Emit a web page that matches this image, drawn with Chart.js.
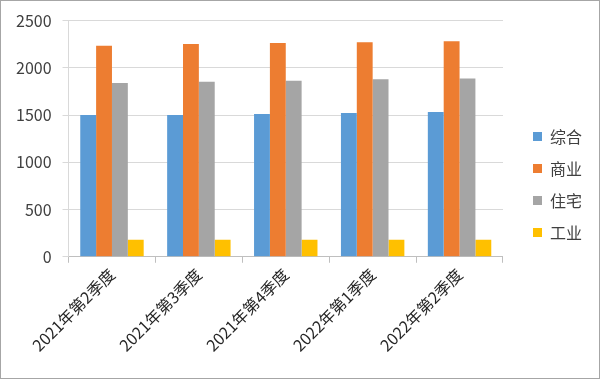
<!DOCTYPE html>
<html><head><meta charset="utf-8">
<script src="https://cdn.jsdelivr.net/npm/chart.js@4"></script>
<style>html,body{margin:0;padding:0;background:#fff}#wrap{width:600px;height:379px;position:relative}</style>
</head><body><div id="wrap"><canvas id="c" width="600" height="379"></canvas></div>
<script>
const categories = ["2021年第2季度","2021年第3季度","2021年第4季度","2022年第1季度","2022年第2季度"];
const seriesNames = ["综合","商业","住宅","工业"];
const zonghe = [1500, 1502, 1511, 1522, 1532];
const shangye = [2235, 2253, 2264, 2270, 2281];
const zhuzhai = [1840, 1854, 1864, 1878, 1888];
const gongye = [180, 180, 180, 180, 180];
const yTicks = [0, 500, 1000, 1500, 2000, 2500];
const colors = ["#5B9BD5","#ED7D31","#A5A5A5","#FFC000"];

const FONT = "'Noto Sans CJK SC', 'Noto Sans', sans-serif";
const border = {
  id:'border',
  afterDraw(chart){
    const ctx = chart.ctx;
    ctx.save();
    ctx.strokeStyle = '#a6a6a6';
    ctx.lineWidth = 1;
    ctx.strokeRect(0.5,0.5,chart.width-1,chart.height-1);
    ctx.restore();
  }
};
const spacer = {
  id:'spacer',
  beforeInit(chart){
    const box = {
      position:'right', weight:500, fullSize:false, options:{},
      width:0,height:0,left:0,top:0,right:0,bottom:0,
      update(maxWidth,maxHeight){ this.width=14; this.height=maxHeight; },
      isHorizontal(){ return false; },
      getPadding(){ return {left:0,right:0,top:0,bottom:0}; },
      draw(){}
    };
    Chart.layouts.addBox(chart, box);
  }
};

new Chart(document.getElementById('c'), {
  type:'bar',
  data:{
    labels: categories,
    datasets: [zonghe, shangye, zhuzhai, gongye].map((d,i)=>({
      label: seriesNames[i], data: d, backgroundColor: colors[i], borderWidth:0,
      categoryPercentage:0.73, barPercentage:1
    }))
  },
  options:{
    responsive:false, animation:false,
    devicePixelRatio:1,
    layout:{padding:{left:5, right:8, top:12, bottom:22}},
    plugins:{
      legend:{
        position:'right',
        labels:{boxWidth:9, boxHeight:9, padding:16, color:'#404040', font:{family:FONT, size:16}}
      },
      tooltip:{enabled:false}
    },
    scales:{
      x:{
        grid:{display:true, drawOnChartArea:false, drawTicks:true, tickLength:6, color:'#bfbfbf', offset:true},
        border:{display:true, color:'#bfbfbf'},
        ticks:{maxRotation:45, minRotation:45, autoSkip:false, color:'#262626', font:{family:FONT, size:16}, padding:2}
      },
      y:{
        min:0, max:2500,
        afterBuildTicks(scale){ scale.ticks = yTicks.map(v=>({value:v})); },
        grid:{color:'#d9d9d9', tickLength:6},
        border:{display:true, color:'#d9d9d9'},
        ticks:{color:'#404040', font:{family:FONT, size:16}, padding:11, callback:(v)=>String(v)}
      }
    }
  },
  plugins:[spacer, border]
});
</script></body></html>
